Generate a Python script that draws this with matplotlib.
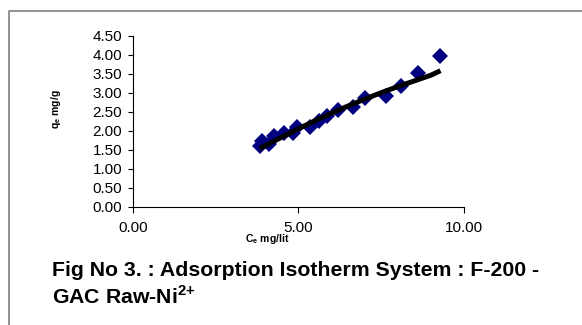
import matplotlib.pyplot as plt
from matplotlib.lines import Line2D

# measured equilibrium points
ce_mg_lit = [3.83, 3.89, 4.11, 4.28, 4.56, 4.84, 4.96, 5.35, 5.63, 5.85,
             6.19, 6.64, 7.00, 7.65, 8.09, 8.62, 9.29]
qe_mg_g = [1.59, 1.72, 1.66, 1.87, 1.94, 1.94, 2.09, 2.11, 2.25, 2.38,
           2.55, 2.62, 2.85, 2.90, 3.18, 3.51, 3.96]

# fitted isotherm curve
ce_fit = [3.83, 4.5, 5.0, 5.5, 6.0, 6.5, 7.0, 7.5, 8.0, 8.5, 9.0, 9.29]
qe_fit = [1.53, 1.83, 2.05, 2.26, 2.46, 2.65, 2.83, 3.00, 3.16, 3.31, 3.46, 3.58]

x_ticks = [0.0, 5.0, 10.0]
y_ticks = [0.0, 0.5, 1.0, 1.5, 2.0, 2.5, 3.0, 3.5, 4.0, 4.5]

plt.rcParams["font.family"] = ["Liberation Sans", "DejaVu Sans"]
plt.rcParams["mathtext.fontset"] = "custom"
plt.rcParams["mathtext.rm"] = "Liberation Sans"
plt.rcParams["mathtext.bf"] = "Liberation Sans:bold"

W, H = 582, 325
fig = plt.figure(figsize=(W / 100, H / 100), dpi=100)
ax = fig.add_axes([132.7 / W, 1 - 206.7 / H, (464 - 132.7) / W, (206.7 - 35.7) / H])

ax.plot(ce_mg_lit, qe_mg_g, linestyle="none", marker="D", markersize=7.8,
        color="#000080", markeredgewidth=0)
ax.plot(ce_fit, qe_fit, color="black", linewidth=3.6, solid_capstyle="butt")

ax.set_xlim(0, 10)
ax.set_ylim(0, 4.5)
ax.set_xticks(x_ticks)
ax.set_yticks(y_ticks)
ax.set_xticklabels([f"{v:.2f}" for v in x_ticks])
ax.set_yticklabels([f"{v:.2f}" for v in y_ticks])
ax.tick_params(labelsize=11, length=3.5, width=0.8, pad=4)
ax.tick_params(axis="x", length=4, pad=6)
for side in ("top", "right"):
    ax.spines[side].set_visible(False)
for side in ("left", "bottom"):
    ax.spines[side].set_linewidth(0.8)

# axis titles sit off-centre in the original
fig.text(56 / W, 1 - 109 / H, "q$_\\mathbf{e}$ mg/g", rotation=90,
         ha="center", va="center", fontsize=7.5, fontweight="bold")
fig.text(267 / W, 1 - 239 / H, "C$_\\mathbf{e}$ mg/lit",
         ha="center", va="center", fontsize=7.5, fontweight="bold")

fig.text(52 / W, 1 - 271 / H, "Fig No 3. : Adsorption Isotherm System : F-200 -",
         ha="left", va="center", fontsize=15.3, fontweight="bold")
fig.text(52 / W, 1 - 296 / H, "GAC Raw-Ni$^\\mathbf{2{+}}$",
         ha="left", va="center", fontsize=15.3, fontweight="bold")

# grey frame of the text box
x0, y0 = 9.3 / W, 1 - 10.7 / H
fig.add_artist(Line2D([x0, x0, 1.0], [0.0, y0, y0], color="#808080",
                      linewidth=1.2, transform=fig.transFigure))

fig.savefig("out.png", dpi=100)
